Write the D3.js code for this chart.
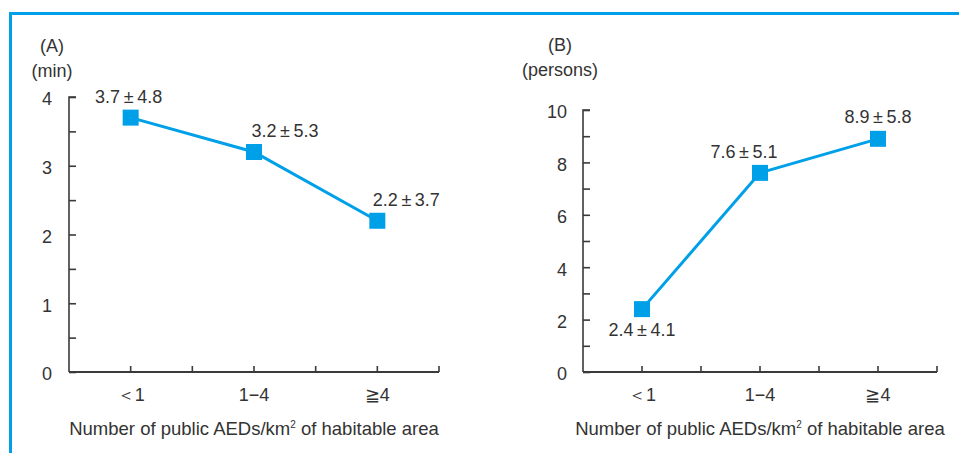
<!DOCTYPE html>
<html>
<head>
<meta charset="utf-8">
<script src="https://cdn.jsdelivr.net/npm/d3@7"></script>
<style>
  body { margin: 0; background: #fff; }
  text { font-family: "Liberation Sans", Arial, sans-serif; fill: #333; }
</style>
</head>
<body>
<svg width="959" height="453"></svg>
<script>
// categories + values
let categories = ['＜1', '1−4', '≧4'];
let minutesMean = [3.7, 3.2, 2.2];
let minutesSD = [4.8, 5.3, 3.7];
let personsMean = [2.4, 7.6, 8.9];
let personsSD = [4.1, 5.1, 5.8];
let minutesTicks = [0, 1, 2, 3, 4];
let personsTicks = [0, 2, 4, 6, 8, 10];

let svg = d3.select('svg');
let blue = '#00a0e9';
let axisColor = '#3a3a3a';
let fs = 18;

// outer frame, only left and top edges show
svg.append('rect')
  .attr('x', 10.5).attr('y', 13.5)
  .attr('width', 1000).attr('height', 500)
  .attr('fill', 'none')
  .attr('stroke', blue)
  .attr('stroke-width', 3);

function panel(opt) {
  let g = svg.append('g');
  let x = d3.scalePoint().domain(categories).range([opt.x0, opt.x1]).padding(0.5);
  let y = d3.scaleLinear().domain([0, opt.yMax]).range([opt.yBottom, opt.yTop]);
  let step = x.step() / 2;

  // y axis: minor ticks every opt.minor, labels at opt.ticks
  let yAxis = d3.axisRight(y)
    .tickValues(d3.range(0, opt.yMax + opt.minor / 2, opt.minor))
    .tickSize(7)
    .tickFormat('');
  let ya = g.append('g').attr('transform', `translate(${opt.x0},0)`).call(yAxis);
  ya.select('.domain').attr('d', `M7,${opt.yTop}H0V${opt.yBottom}`);
  ya.selectAll('line, path').attr('stroke', axisColor).attr('stroke-width', 1.6);

  g.selectAll('.ylab')
    .data(opt.ticks)
    .enter().append('text')
    .attr('x', opt.x0 - opt.labGap)
    .attr('y', d => y(d) + 2)
    .attr('dy', '0.35em')
    .attr('text-anchor', 'end')
    .style('font-size', fs + 'px')
    .text(d => d);

  // x axis: ticks at categories and halfway between
  let xt = d3.range(opt.x0 + step, opt.x1 + 1, step);
  g.append('line')
    .attr('x1', opt.x0).attr('x2', opt.x1)
    .attr('y1', opt.yBottom).attr('y2', opt.yBottom)
    .attr('stroke', axisColor).attr('stroke-width', 2.2);
  g.selectAll('.xtick')
    .data(xt)
    .enter().append('line')
    .attr('x1', d => d).attr('x2', d => d)
    .attr('y1', opt.yBottom).attr('y2', opt.yBottom - 6)
    .attr('stroke', axisColor).attr('stroke-width', 1.6);

  g.selectAll('.xlab')
    .data(categories)
    .enter().append('text')
    .attr('x', d => x(d))
    .attr('y', opt.yBottom + 23)
    .attr('dy', '0.35em')
    .attr('text-anchor', 'middle')
    .style('font-size', fs + 'px')
    .text(d => d);

  let t = g.append('text')
    .attr('x', (opt.x0 + opt.x1) / 2)
    .attr('y', opt.yBottom + 57)
    .attr('dy', '0.35em')
    .attr('text-anchor', 'middle')
    .style('font-size', '18.5px');
  t.append('tspan').text('Number of public AEDs/km');
  t.append('tspan').attr('dy', '-7').style('font-size', '10px').text('2');
  t.append('tspan').attr('dy', '7').text(' of habitable area');

  g.append('text')
    .attr('x', opt.titleX).attr('y', opt.titleY)
    .attr('dy', '0.35em').attr('text-anchor', 'middle')
    .style('font-size', fs + 'px')
    .text(opt.title);
  g.append('text')
    .attr('x', opt.titleX).attr('y', opt.titleY + 25)
    .attr('dy', '0.35em').attr('text-anchor', 'middle')
    .style('font-size', fs + 'px')
    .text(opt.unit);

  let pts = categories.map((c, i) => ({ c: c, v: opt.mean[i], sd: opt.sd[i], off: opt.labelOff[i] }));

  g.append('path')
    .datum(pts)
    .attr('fill', 'none')
    .attr('stroke', blue)
    .attr('stroke-width', 3)
    .attr('d', d3.line().x(d => x(d.c)).y(d => y(d.v)));

  g.selectAll('.pt')
    .data(pts)
    .enter().append('rect')
    .attr('x', d => x(d.c) - 8)
    .attr('y', d => y(d.v) - 8)
    .attr('width', 16).attr('height', 16)
    .attr('fill', blue);

  g.selectAll('.vlab')
    .data(pts)
    .enter().append('text')
    .attr('x', d => x(d.c) + d.off[0])
    .attr('y', d => y(d.v) + d.off[1])
    .attr('dy', '0.35em')
    .attr('text-anchor', 'middle')
    .style('font-size', fs + 'px')
    .text(d => d.v.toFixed(1) + '\u2009±\u2009' + d.sd.toFixed(1));
}

panel({
  x0: 69, x1: 439, yTop: 97, yBottom: 372, yMax: 4, minor: 0.5,
  ticks: minutesTicks, labGap: 17,
  mean: minutesMean, sd: minutesSD,
  labelOff: [[-2, -21], [31, -21], [29, -21]],
  title: '(A)', unit: '(min)', titleX: 52, titleY: 46
});

panel({
  x0: 583, x1: 937, yTop: 110, yBottom: 372, yMax: 10, minor: 1,
  ticks: personsTicks, labGap: 16,
  mean: personsMean, sd: personsSD,
  labelOff: [[0, 21], [-16, -21], [0, -22]],
  title: '(B)', unit: '(persons)', titleX: 560, titleY: 45
});
</script>
</body>
</html>
